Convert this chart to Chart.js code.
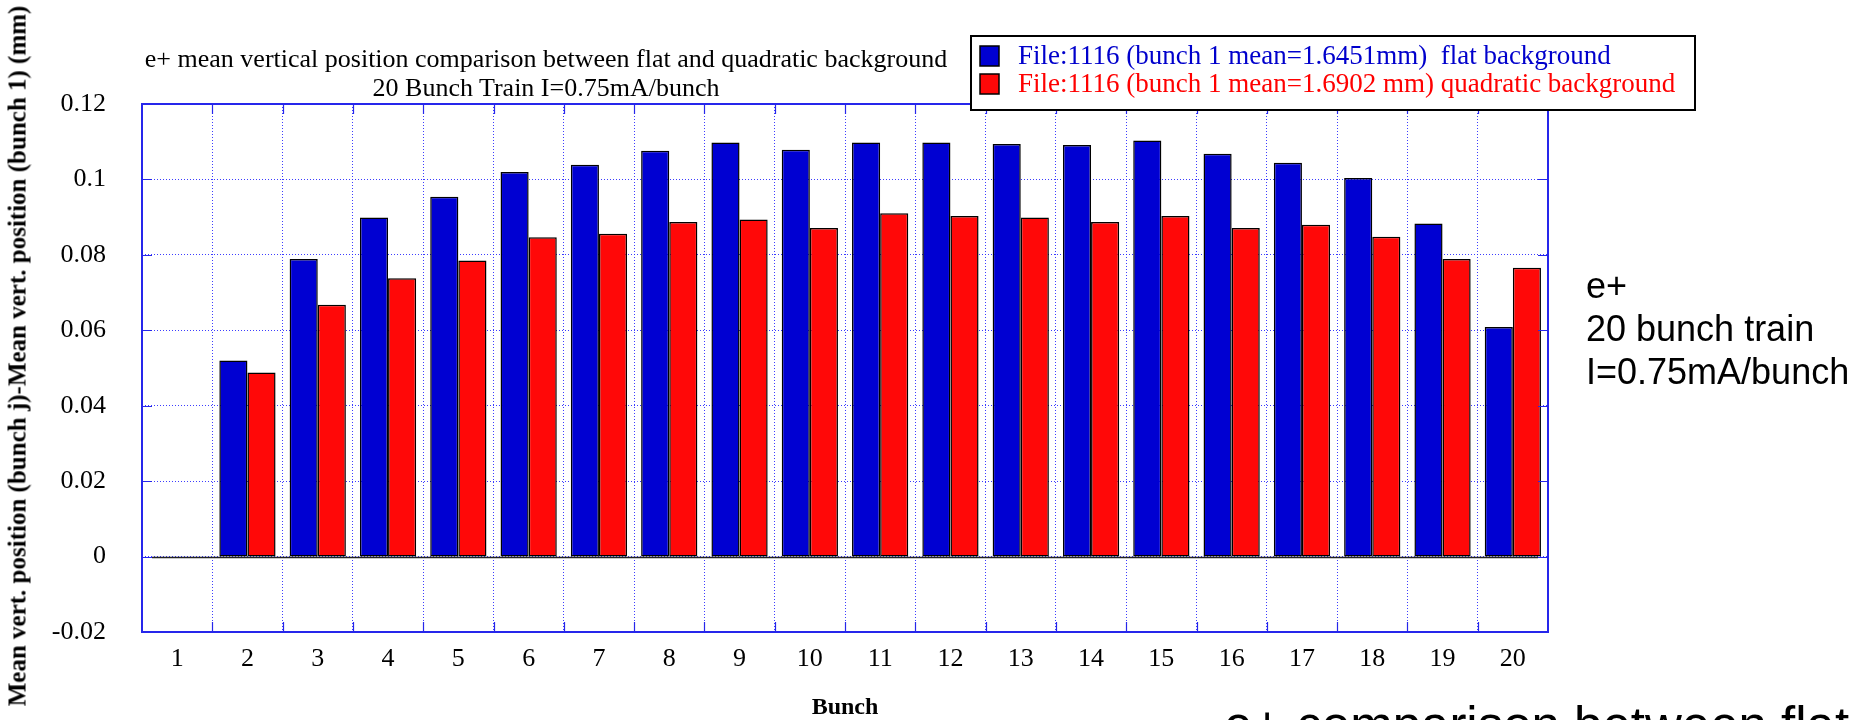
<!DOCTYPE html>
<html>
<head>
<meta charset="utf-8">
<script src="https://cdn.jsdelivr.net/npm/chart.js@4.4.1/dist/chart.umd.min.js"></script>
<style>
  html, body { margin: 0; padding: 0; background: #fff; overflow: hidden; }
  #wrap { position: relative; width: 1861px; height: 720px; overflow: hidden; }
  #c { position: absolute; left: 0; top: 0; }
  .note { position: absolute; white-space: pre; color: #000; }
  #title { left: 46px; width: 1000px; top: 44px; text-align: center; font: 26px/29px "Liberation Serif", "Times New Roman", serif; }
  #side { left: 1586px; top: 264px; font: 36px/43px "Liberation Sans", Arial, sans-serif; }
  #foot { left: 1224px; top: 701px; font: 51px/50px "Liberation Sans", Arial, sans-serif; }
  #ytitle { left: 17px; top: 356px; font: bold 25px/25px "Liberation Serif", "Times New Roman", serif;
            transform: translate(-50%, -50%) rotate(-90deg); }
</style>
</head>
<body>
<div id="wrap">
  <canvas id="c" width="1861" height="720"></canvas>
  <div id="title" class="note"></div>
  <div id="ytitle" class="note"></div>
  <div id="side" class="note"></div>
  <div id="foot" class="note"></div>
</div>
<script>
// Bunch numbers along the train
const bunches = ['1', '2', '3', '4', '5', '6', '7', '8', '9', '10',
                 '11', '12', '13', '14', '15', '16', '17', '18', '19', '20'];

// Mean vertical position of bunch j minus bunch 1 (mm), flat background fit
const flatBackground = [0, 0.0520, 0.0789, 0.0899, 0.0954, 0.1020, 0.1039, 0.1076, 0.1098, 0.1079,
                        0.1098, 0.1098, 0.1094, 0.1091, 0.1103, 0.1068, 0.1044, 0.1004, 0.0883, 0.0609];

// Same quantity with a quadratic background fit
const quadraticBackground = [0, 0.0488, 0.0668, 0.0738, 0.0785, 0.0847, 0.0856, 0.0887, 0.0894, 0.0871,
                             0.0910, 0.0903, 0.0899, 0.0887, 0.0903, 0.0871, 0.0880, 0.0848, 0.0789, 0.0766];

const yTickLabels = ['-0.02', '0', '0.02', '0.04', '0.06', '0.08', '0.1', '0.12'];

const seriesLabels = [
  'File:1116 (bunch 1 mean=1.6451mm)  flat background',
  'File:1116 (bunch 1 mean=1.6902 mm) quadratic background'
];
const titleLines = [
  'e+ mean vertical position comparison between flat and quadratic background',
  '20 Bunch Train I=0.75mA/bunch'
];
const sideNote = ['e+', '20 bunch train', 'I=0.75mA/bunch'];
const footNote = 'e+ comparison between flat';
const yAxisTitle = 'Mean vert. position (bunch j)-Mean vert. position (bunch 1) (mm)';
const xAxisTitle = 'Bunch';

document.getElementById('title').textContent = titleLines.join('\n');
document.getElementById('ytitle').textContent = yAxisTitle;
document.getElementById('side').textContent = sideNote.join('\n');
document.getElementById('foot').textContent = footNote;

const SERIF = '"Liberation Serif", "Times New Roman", serif';
const FRAME = 'rgb(38, 38, 235)';
const GRID = 'rgba(40, 40, 255, 0.9)';

// Frame, inward ticks, zero line and the boxed legend in the upper right
const framePlugin = {
  id: 'frame',
  beforeDatasetsDraw(chart) {
    const { ctx, chartArea: a, scales: { y } } = chart;
    const y0 = Math.round(y.getPixelForValue(0)) + 0.5;
    ctx.save();
    ctx.strokeStyle = '#222';
    ctx.lineWidth = 1.5;
    ctx.beginPath();
    ctx.moveTo(a.left + 10, y0);
    ctx.lineTo(a.right - 10, y0);
    ctx.stroke();
    ctx.restore();
  },
  afterDatasetsDraw(chart) {
    const { ctx, chartArea: a, scales: { x, y } } = chart;
    const t = 10;
    ctx.save();
    ctx.strokeStyle = FRAME;
    ctx.lineWidth = 1.2;
    ctx.beginPath();
    y.ticks.forEach(tk => {
      const py = Math.round(y.getPixelForValue(tk.value)) + 0.5;
      ctx.moveTo(a.left, py); ctx.lineTo(a.left + t, py);
      ctx.moveTo(a.right, py); ctx.lineTo(a.right - t, py);
    });
    for (let i = 1; i < x.ticks.length; i++) {
      const px = Math.round((x.getPixelForTick(i - 1) + x.getPixelForTick(i)) / 2) + 0.5;
      ctx.moveTo(px, a.top); ctx.lineTo(px, a.top + t);
      ctx.moveTo(px, a.bottom); ctx.lineTo(px, a.bottom - t);
    }
    ctx.stroke();
    ctx.lineWidth = 2;
    ctx.strokeRect(a.left, a.top, a.right - a.left, a.bottom - a.top);
    ctx.restore();
  },
  afterDraw(chart) {
    const { ctx } = chart;
    const box = { left: 971, top: 36, right: 1695, bottom: 110 };
    ctx.save();
    ctx.fillStyle = '#fff';
    ctx.fillRect(box.left, box.top, box.right - box.left, box.bottom - box.top);
    ctx.strokeStyle = '#000';
    ctx.lineWidth = 2;
    ctx.strokeRect(box.left, box.top, box.right - box.left, box.bottom - box.top);
    ctx.font = '27px ' + SERIF;
    ctx.textBaseline = 'middle';
    chart.data.datasets.forEach((ds, i) => {
      const cy = 56 + i * 28;
      ctx.fillStyle = ds.backgroundColor;
      ctx.fillRect(980, cy - 10, 19, 20);
      ctx.lineWidth = 1.5;
      ctx.strokeStyle = '#000';
      ctx.strokeRect(980, cy - 10, 19, 20);
      ctx.fillStyle = ds.labelColor;
      ctx.fillText(ds.label, 1018, cy + 1);
    });
    ctx.restore();
  }
};

new Chart(document.getElementById('c'), {
  type: 'bar',
  data: {
    labels: bunches,
    datasets: [
      {
        label: seriesLabels[0],
        data: flatBackground,
        backgroundColor: '#0000d2',
        labelColor: '#0000cc',
        borderColor: '#000',
        borderWidth: 1.5,
        borderSkipped: false
      },
      {
        label: seriesLabels[1],
        data: quadraticBackground,
        backgroundColor: '#ff0808',
        labelColor: '#ff0000',
        borderColor: '#000',
        borderWidth: 1.5,
        borderSkipped: false
      }
    ]
  },
  options: {
    responsive: false,
    animation: false,
    devicePixelRatio: 1,
    layout: { padding: { left: 0, top: 104, right: 313, bottom: 0 } },
    datasets: { bar: { categoryPercentage: 0.8, barPercentage: 1.0 } },
    plugins: {
      legend: { display: false },
      title: { display: false },
      tooltip: { enabled: false }
    },
    scales: {
      x: {
        grid: { color: GRID, lineWidth: 1, drawTicks: false, offset: true },
        border: { display: false, dash: [1, 2] },
        ticks: {
          font: { family: SERIF, size: 26 },
          color: '#000',
          padding: 12,
          maxRotation: 0,
          autoSkip: false
        },
        title: {
          display: true,
          text: xAxisTitle,
          color: '#000',
          font: { family: SERIF, size: 24, weight: 'bold', lineHeight: 1 },
          padding: { top: 0, bottom: 0 }
        },
        afterFit(scale) { scale.height = 88; }
      },
      y: {
        min: -0.02,
        max: 0.12,
        grid: { color: GRID, lineWidth: 1, drawTicks: false },
        border: { display: false, dash: [1, 2] },
        ticks: {
          stepSize: 0.02,
          font: { family: SERIF, size: 26 },
          color: '#000',
          padding: 36,
          callback: (v, i) => yTickLabels[i]
        },
        title: { display: false },
        afterFit(scale) { scale.width = 142; }
      }
    }
  },
  plugins: [framePlugin]
});
</script>
</body>
</html>
